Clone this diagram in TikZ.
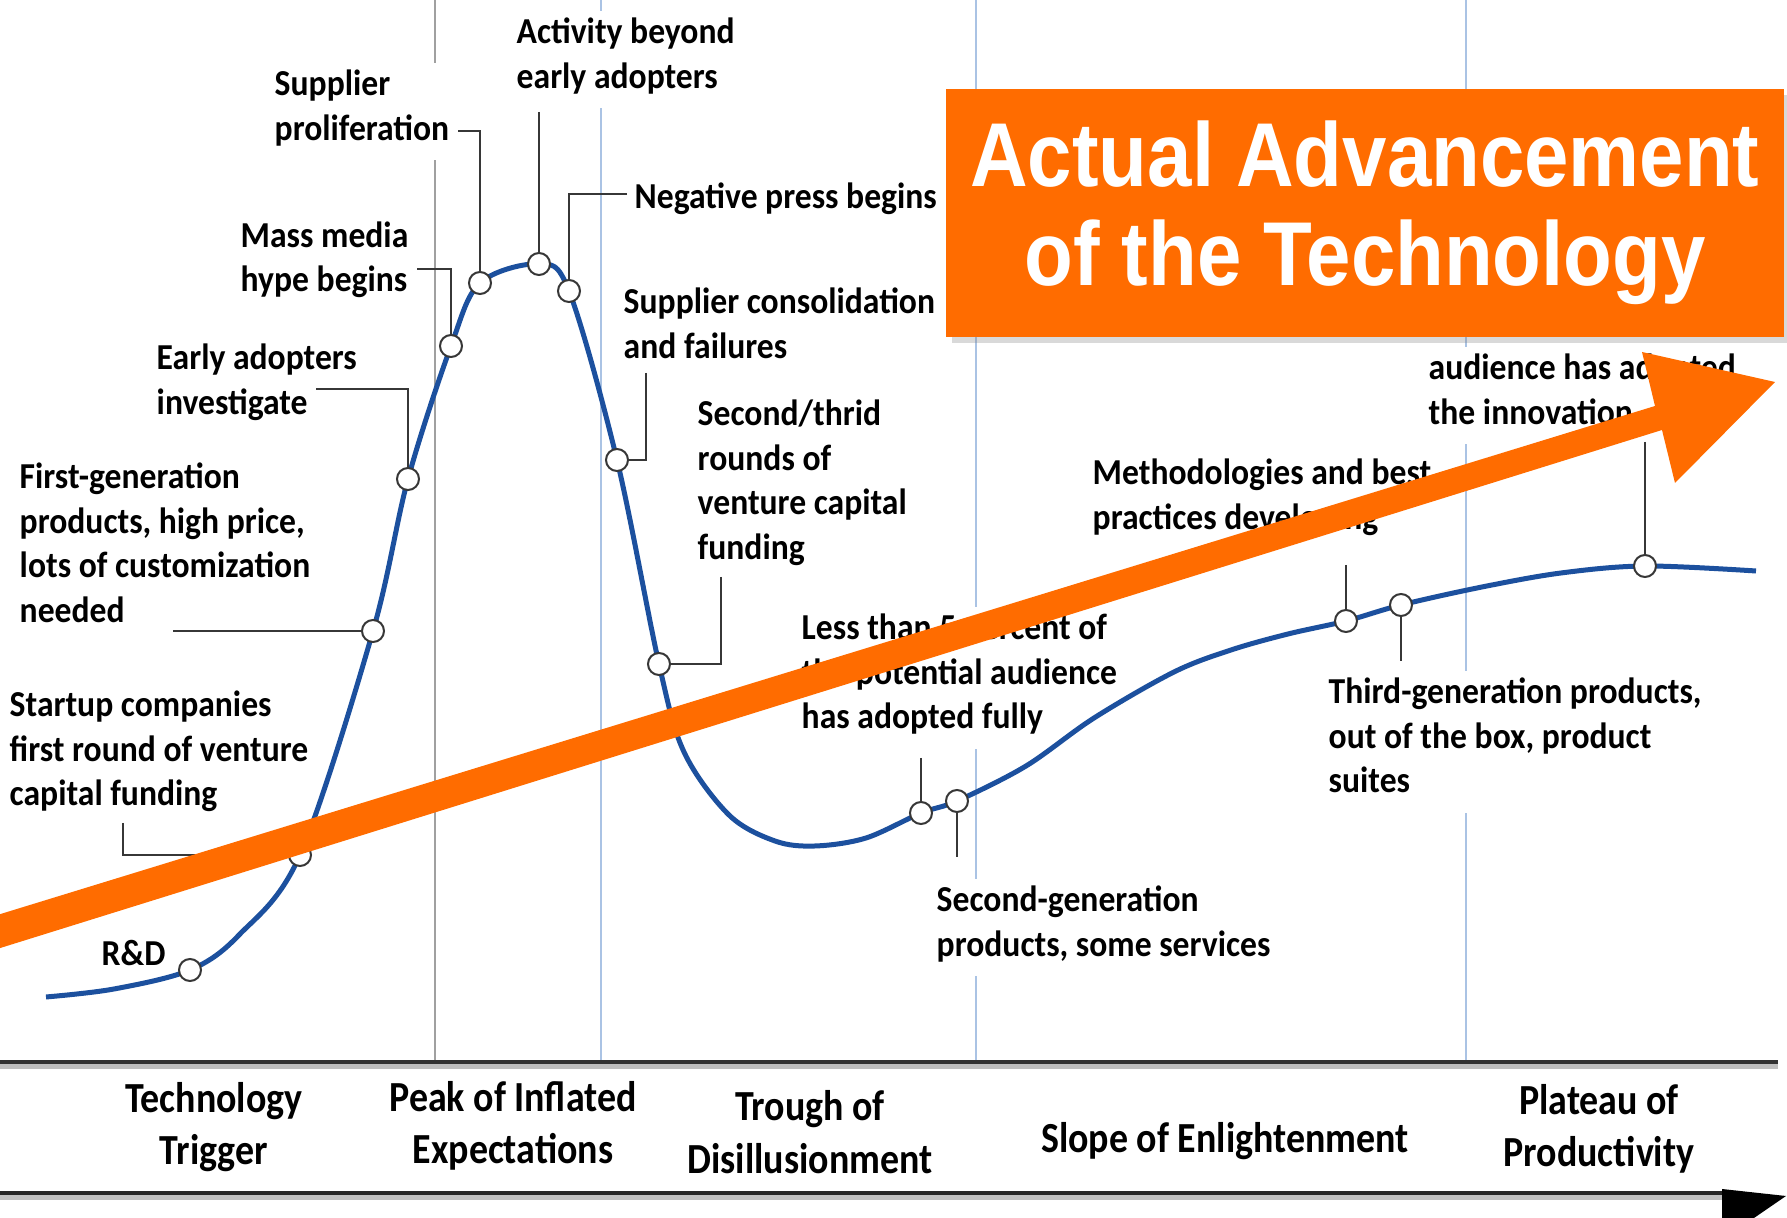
\documentclass[tikz,border=0pt]{standalone}
\usepackage{fontspec}
\setmainfont{Carlito}
\newfontfamily\notefont[FakeStretch=0.92]{Carlito}
\newfontfamily\phasefont[FakeStretch=0.885]{Carlito}
\newfontfamily\bannerfont[FakeStretch=0.88]{Liberation Sans}
\usepackage{tikz}
\usetikzlibrary{shadows}
\definecolor{hypeblue}{RGB}{28,80,158}
\definecolor{advorange}{RGB}{255,108,0}
\definecolor{leadgray}{RGB}{55,55,55}
\definecolor{phasegray}{RGB}{160,160,160}
\definecolor{phaseblue}{RGB}{170,195,228}
\tikzset{hype/.style={line width=0.5mm,color=hypeblue,line join=round}}
\tikzset{lead/.style={line width=0.28mm,color=leadgray}}
\tikzset{knot/.style={circle,draw=leadgray,fill=white,line width=0.2mm,
    minimum size=2.2mm,inner sep=0pt}}
\tikzset{remark/.style={anchor=north west,align=left,fill=white,inner sep=2pt,
    font=\notefont\bfseries\fontsize{10.4}{12.7}\selectfont,
    execute at begin node=\strut}}
\tikzset{phase/.style={align=center,inner sep=0pt,
    font=\phasefont\bfseries\fontsize{12.2}{14.9}\selectfont}}
\tikzset{divider/.style={line width=0.2mm}}
\tikzset{banner/.style={fill=advorange,text=white,align=center,
    minimum width=83.8mm,minimum height=24.8mm,inner sep=0pt,
    font=\bannerfont\bfseries\fontsize{25.8}{28.2}\selectfont,
    drop shadow={shadow xshift=0.6mm,shadow yshift=-0.6mm,opacity=0.3}}}

\begin{document}
\begin{tikzpicture}[x=0.1mm,y=-0.1mm]
        \useasboundingbox (0,0) rectangle (1787,1218);
        \clip (0,0) rectangle (1787,1218);
        % Phase dividers
        \draw[divider,phasegray] (435,0) -- (435,1062);
        \foreach \px in {601,976,1466}
            \draw[divider,phaseblue] (\px,0) -- (\px,1062);
        % Time axis, with its shadow
        \draw[line width=0.5mm,black!25] (0,1067) -- (1778,1067);
        \draw[line width=0.4mm,black!80] (0,1062) -- (1778,1062);
        \draw[line width=0.5mm,black!25] (0,1198) -- (1730,1198);
        \draw[line width=0.4mm,black!85] (0,1193) -- (1730,1193);
        \fill[black] (1722,1189) -- (1786,1196) -- (1722,1240) -- cycle;
        % Labels
        \node[remark] (rd-l) at (94,927) {R\&D};
        \node[remark] (startup-l) at (2,683) {Startup companies\\first round of venture\\capital funding};
        \node[remark] (firstgen-l) at (12,455) {First-generation\\products, high price,\\lots of customization\\needed};
        \node[remark] (early-l) at (149,336) {Early adopters\\investigate};
        \node[remark] (mass-l) at (233,214) {Mass media\\hype begins};
        \node[remark] (prolif-l) at (267,62) {Supplier\\proliferation};
        \node[remark] (activity-l) at (509,10) {Activity beyond\\early adopters};
        \node[remark] (negative-l) at (627,170) {Negative press begins};
        \node[remark] (consol-l) at (616,280) {Supplier consolidation\\and failures};
        \node[remark] (rounds-l) at (690,392) {Second/thrid\\rounds of\\venture capital\\funding};
        \node[remark] (lessthan-l) at (794,606) {Less than 5 percent of\\the potential audience\\has adopted fully};
        \node[remark] (secondgen-l) at (929,878) {Second-generation\\products, some services};
        \node[remark] (method-l) at (1085,451) {Methodologies and best\\practices developing};
        \node[remark] (thirdgen-l) at (1321,670) {Third-generation products,\\out of the box, product\\suites};
        \node[remark] (adopted-l) at (1421,346) {audience has adopted\\the innovation};
        % Points on the hype curve
        \coordinate (rd) at (190,970);
        \coordinate (startup) at (300,855);
        \coordinate (firstgen) at (373,631);
        \coordinate (early) at (408,479);
        \coordinate (mass) at (451,346);
        \coordinate (prolif) at (480,283);
        \coordinate (activity) at (539,264);
        \coordinate (negative) at (569,291);
        \coordinate (consol) at (617,460);
        \coordinate (rounds) at (659,664);
        \coordinate (lessthan) at (921,813);
        \coordinate (secondgen) at (957,801);
        \coordinate (method) at (1346,621);
        \coordinate (thirdgen) at (1401,605);
        \coordinate (adopted) at (1645,566);
        % The hype curve
        \draw[hype] plot[smooth,tension=0.55] coordinates {(46,997) (114,989)
            (rd) (239,935) (startup) (firstgen) (early) (mass) (prolif)
            (activity) (negative) (consol) (rounds) (684,752) (729,815)
            (775,841) (815,846) (866,838) (lessthan) (secondgen) (1026,766)
            (1094,718) (1174,672) (1231,650) (1288,634) (method) (thirdgen)
            (1482,587) (1561,573) (adopted) (1756,571)};
        % Leader ends
        \coordinate (startup-e) at (123,823);
        \coordinate (firstgen-e) at (173,631);
        \coordinate (early-e) at (316,389);
        \coordinate (mass-e) at (417,269);
        \coordinate (prolif-e) at (458,131);
        \coordinate (activity-e) at (539,112);
        \coordinate (negative-e) at (627,194);
        \coordinate (consol-e) at (646,373);
        \coordinate (rounds-e) at (721,577);
        \coordinate (lessthan-e) at (921,758);
        \coordinate (secondgen-e) at (957,857);
        \coordinate (method-e) at (1346,565);
        \coordinate (thirdgen-e) at (1401,661);
        \coordinate (adopted-e) at (1645,442);
        % Circles on the curve
        \foreach \c in {rd,startup,firstgen,early,mass,prolif,activity,negative,
            consol,rounds,lessthan,secondgen,method,thirdgen,adopted}
            \node[knot] (k-\c) at (\c) {};
        % Leaders
        \draw[lead] (startup-e) |- (k-startup);
        \draw[lead] (firstgen-e) -- (k-firstgen);
        \draw[lead] (early-e) -| (k-early);
        \draw[lead] (mass-e) -| (k-mass);
        \draw[lead] (prolif-e) -| (k-prolif);
        \draw[lead] (activity-e) -- (k-activity);
        \draw[lead] (negative-e) -| (k-negative);
        \draw[lead] (consol-e) |- (k-consol);
        \draw[lead] (rounds-e) |- (k-rounds);
        \foreach \c in {lessthan,secondgen,method,thirdgen,adopted}
            \draw[lead] (\c-e) -- (k-\c);
        % Phase names
        \node[phase] (trigger) at (214,1127) {Technology\\Trigger};
        \node[phase] (peak) at (513,1126) {Peak of Inflated\\Expectations};
        \node[phase] (trough) at (810,1132) {Trough of\\Disillusionment};
        \node[phase] (slope) at (1225,1141) {Slope of Enlightenment};
        \node[phase] (plateau) at (1599,1129) {Plateau of\\Productivity};
        % Banner and arrow
        \node[banner] (advance) at (1365,213) {Actual Advancement\\of the Technology};
        \fill[advorange] (-45,928) -- (1655,406) -- (1642,352) -- (1775,382)
            -- (1675,483) -- (1662,430) -- (-35,959) -- cycle;
\end{tikzpicture}
\end{document}
